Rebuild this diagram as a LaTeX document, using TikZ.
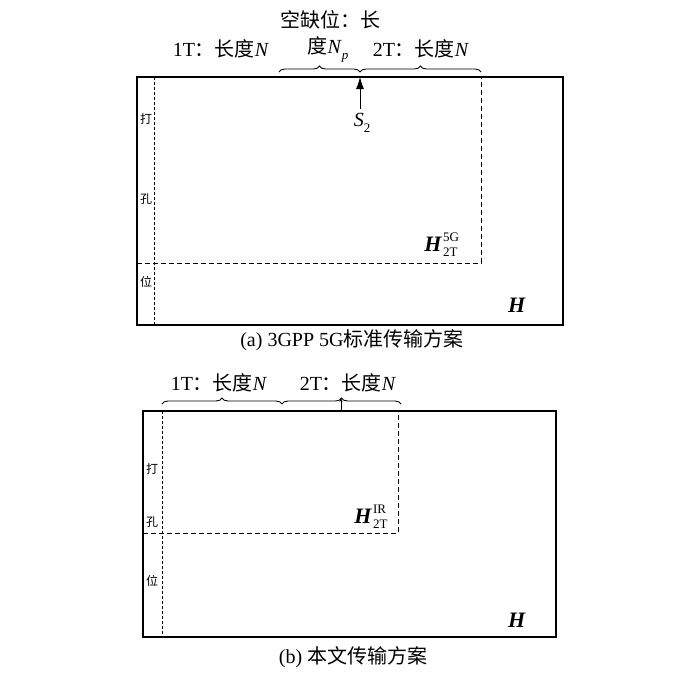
\documentclass[tikz,border=0pt]{standalone}
\usepackage{fontspec}
\setmainfont{Liberation Serif}
\newfontfamily\cjk{Noto Sans CJK SC}
\usetikzlibrary{decorations.pathreplacing,arrows.meta}
\newcommand{\myscr}[1]{{\fontsize{13}{13}\selectfont #1}}
\newcommand{\supsub}[2]{\makebox[0pt][l]{\raisebox{10pt}{\myscr{#1}}}\raisebox{-5pt}{\myscr{#2}}}
\begin{document}
\begin{tikzpicture}[x=1pt,y=-1pt,
  frame/.style={line width=1.5pt},
  dline/.style={line width=1pt, dash pattern=on 5pt off 3pt},
  vline/.style={line width=0.8pt, dash pattern=on 3pt off 2pt},
  brc/.style={decorate, decoration={brace, amplitude=6pt}, line width=0.9pt},
  lbl/.style={font=\fontsize{20}{22}\selectfont, inner sep=0pt},
  side/.style={font=\cjk\fontsize{12}{14}\selectfont, inner sep=0pt},
  captxt/.style={font=\fontsize{20}{22}\selectfont, inner sep=0pt},
  hbig/.style={font=\fontsize{22}{24}\selectfont, inner sep=0pt}
]
\useasboundingbox (0,0) rectangle (700,673);
% ---------- panel (a)
\draw[frame] (137,77) rectangle (563,325);
\draw[vline] (154,77) -- (154,325);
\draw[dline] (137,263) -- (481,263) -- (481,77);
\draw[brc] (279,72) -- (360,72);
\draw[brc] (360,72) -- (481,72);
\node[lbl] (t1a) at (221,49) {1T{\cjk ：长度}\textit{N}};
\node[lbl] (gapa) at (330,20) {{\cjk 空缺位：长}};
\node[lbl] (gapb) at (328,49) {{\cjk 度}\textit{N}\raisebox{-6pt}{\myscr{\textit{p}}}};
\node[lbl] (t2a) at (421,49) {2T{\cjk ：长度}\textit{N}};
\node[lbl] (s2) at (362,123) {\textit{S}\raisebox{-6pt}{\myscr{2}}};
\coordinate (s2top) at (360,77);
\draw[line width=0.9pt, -{Latex[length=12pt,width=8pt]}] (360,109) -- (s2top);
\node[side] (da) at (146,119) {打};
\node[side] (ka) at (146,199) {孔};
\node[side] (wa) at (146,282) {位};
\node[hbig] (h5g) at (441,245) {\textbf{\textit{H}}\kern1pt\supsub{5G}{2T}};
\node[hbig] (ha) at (517,305) {\textbf{\textit{H}}};
\node[captxt] (capa) at (352,340) {(a) 3GPP 5G{\cjk 标准传输方案}};
% ---------- panel (b)
\draw[frame] (143,411) rectangle (556,637);
\draw[vline] (162,411) -- (162,637);
\draw[dline] (143,533) -- (398,533) -- (398,411);
\draw[brc] (162,404) -- (282,404);
\draw[brc] (282,404) -- (401,404);
\node[lbl] (t1b) at (219,383) {1T{\cjk ：长度}\textit{N}};
\node[lbl] (t2b) at (348,383) {2T{\cjk ：长度}\textit{N}};
\coordinate (btop) at (341,411);
\coordinate (btip) at (341,398);
\draw[line width=0.7pt, -{Stealth[length=4pt,width=3pt]}] (btop) -- (btip);
\node[side] (db) at (152,469) {打};
\node[side] (kb) at (152,522) {孔};
\node[side] (wb) at (152,581) {位};
\node[hbig] (hir) at (371,517) {\textbf{\textit{H}}\kern1pt\supsub{IR}{2T}};
\node[hbig] (hb) at (517,620) {\textbf{\textit{H}}};
\node[captxt] (capb) at (353,657) {(b) {\cjk 本文传输方案}};
\end{tikzpicture}
\end{document}
